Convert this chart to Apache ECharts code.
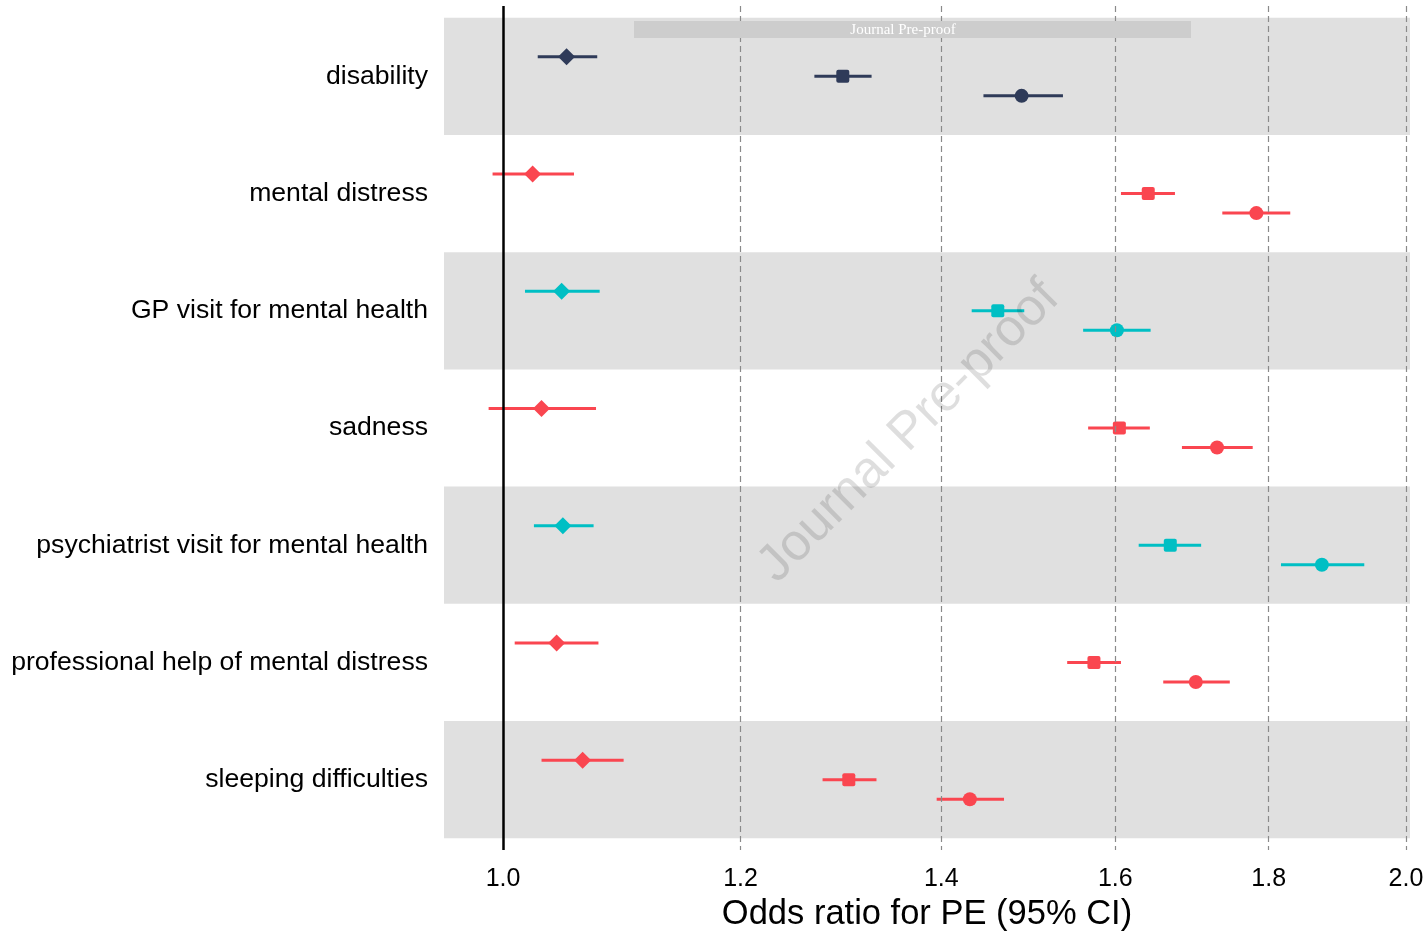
<!DOCTYPE html>
<html>
<head>
<meta charset="utf-8">
<script src="https://cdn.jsdelivr.net/npm/echarts@6/dist/echarts.min.js"></script>
<style>
html,body{margin:0;padding:0;background:#fff;}
#chart{width:1427px;height:931px;}
</style>
</head>
<body>
<div id="chart"></div>
<script>
// ---- data ----
const categories = [
  'disability',
  'mental distress',
  'GP visit for mental health',
  'sadness',
  'psychiatrist visit for mental health',
  'professional help of mental distress',
  'sleeping difficulties'
];
// model 1 (diamond)
const m1Or = [1.050, 1.023, 1.046, 1.030, 1.047, 1.042, 1.063];
const m1Lo = [1.027, 0.992, 1.017, 0.989, 1.024, 1.009, 1.030];
const m1Hi = [1.075, 1.056, 1.077, 1.074, 1.072, 1.076, 1.097];
// model 2 (square)
const m2Or = [1.298, 1.641, 1.462, 1.605, 1.669, 1.574, 1.304];
const m2Lo = [1.270, 1.607, 1.433, 1.567, 1.629, 1.542, 1.278];
const m2Hi = [1.327, 1.675, 1.492, 1.643, 1.709, 1.607, 1.332];
// model 3 (circle)
const m3Or = [1.489, 1.783, 1.602, 1.730, 1.875, 1.702, 1.431];
const m3Lo = [1.446, 1.737, 1.561, 1.684, 1.817, 1.660, 1.395];
const m3Hi = [1.537, 1.830, 1.644, 1.778, 1.937, 1.747, 1.469];
const xTicks = [1.0, 1.2, 1.4, 1.6, 1.8, 2.0];

// ---- styles ----
const NAVY = '#2f3b59', RED = '#fa4650', CYAN = '#00bfc4';
const rowColors = [NAVY, RED, CYAN, RED, CYAN, RED, RED];
const FONT = '"Liberation Sans", Arial, sans-serif';

const rowPos = categories.map((c, i) => i + 1);

function buildData(or, lo, hi) {
  return categories.map((c, i) => [rowPos[i], or[i], lo[i], hi[i]]);
}

function makeRender(shape, offset) {
  return function (params, api) {
    const y = api.value(0) + offset;
    const pE = api.coord([api.value(1), y]);
    const pL = api.coord([api.value(2), y]);
    const pH = api.coord([api.value(3), y]);
    const color = rowColors[params.dataIndex];
    let marker;
    if (shape === 'diamond') {
      const s = 8.5;
      marker = {type: 'polygon', shape: {points: [[pE[0], pE[1]-s],[pE[0]+s, pE[1]],[pE[0], pE[1]+s],[pE[0]-s, pE[1]]]}, style: {fill: color}};
    } else if (shape === 'square') {
      const s = 6.5;
      marker = {type: 'rect', shape: {x: pE[0]-s, y: pE[1]-s, width: 2*s, height: 2*s, r: 2}, style: {fill: color}};
    } else {
      marker = {type: 'circle', shape: {cx: pE[0], cy: pE[1], r: 7}, style: {fill: color}};
    }
    return {
      type: 'group',
      children: [
        {type: 'line', shape: {x1: pL[0], y1: pL[1], x2: pH[0], y2: pH[1]}, style: {stroke: color, lineWidth: 3}},
        marker
      ]
    };
  };
}

const chart = echarts.init(document.getElementById('chart'), null, {renderer: 'canvas'});

const option = {
  backgroundColor: '#ffffff',
  animation: false,
  grid: {left: 444, right: 17, top: 6, bottom: 81, containLabel: false, outerBoundsMode: 'none'},
  xAxis: {
    type: 'log',
    logBase: 10,
    min: 0.9557,
    max: 2.0062,
    axisLine: {show: false},
    axisTick: {show: false, customValues: xTicks},
    splitLine: {show: false},
    axisLabel: {
      customValues: xTicks,
      formatter: v => Number(v).toFixed(1),
      fontSize: 25, color: '#000', fontFamily: FONT, margin: 17
    },
    name: 'Odds ratio for PE (95% CI)',
    nameLocation: 'middle',
    nameGap: 47,
    nameTextStyle: {fontSize: 34.5, color: '#000', fontFamily: FONT}
  },
  yAxis: {
    type: 'value',
    inverse: true,
    min: 0.4,
    max: 7.6,
    axisLine: {show: false},
    axisTick: {show: false},
    splitLine: {show: false},
    axisLabel: {
      customValues: rowPos,
      formatter: v => categories[Math.round(v) - 1] || '',
      fontSize: 26.6, color: '#000', fontFamily: FONT, margin: 16,
      padding: [4, 0, 0, 0]
    }
  },
  series: [
    {
      type: 'custom',
      name: 'bands',
      z: 1,
      silent: true,
      data: rowPos.filter((r, i) => i % 2 === 0).map(r => [r]),
      encode: {y: 0},
      renderItem: function (params, api) {
        const r = api.value(0);
        const cs = params.coordSys;
        const top = api.coord([1, r - 0.5])[1];
        const bot = api.coord([1, r + 0.5])[1];
        return {type: 'rect', shape: {x: cs.x, y: top, width: cs.width, height: bot - top}, style: {fill: '#e0e0e0'}};
      },
      markLine: {
        silent: true,
        symbol: 'none',
        label: {show: false},
        animation: false,
        data: xTicks.map(v => ({
          xAxis: v,
          lineStyle: v === 1.0 ? {color: '#000', width: 2.5, type: 'solid'} : {color: '#8a8a8a', width: 1.2, type: [6, 4]}
        }))
      }
    },
    {type: 'custom', name: 'model 1', z: 3, data: buildData(m1Or, m1Lo, m1Hi), encode: {y: 0, x: [1, 2, 3]}, renderItem: makeRender('diamond', -1/6)},
    {type: 'custom', name: 'model 2', z: 3, data: buildData(m2Or, m2Lo, m2Hi), encode: {y: 0, x: [1, 2, 3]}, renderItem: makeRender('square', 0)},
    {type: 'custom', name: 'model 3', z: 3, data: buildData(m3Or, m3Lo, m3Hi), encode: {y: 0, x: [1, 2, 3]}, renderItem: makeRender('circle', 1/6)}
  ],
  graphic: [
    {type: 'rect', z: 50, shape: {x: 634, y: 21, width: 557, height: 17}, style: {fill: '#cdcdcd'}},
    {type: 'text', z: 51, x: 903, y: 30, style: {text: 'Journal Pre-proof', fill: '#ffffff', font: '15px "Liberation Serif", "DejaVu Serif", serif', textAlign: 'center', textVerticalAlign: 'middle'}},
    {type: 'text', z: 40, x: 909, y: 432, rotation: Math.PI / 4, style: {text: 'Journal Pre-proof', fill: 'rgba(0,0,0,0.13)', font: '52px "Liberation Sans", Arial, sans-serif', textAlign: 'center', textVerticalAlign: 'middle'}}
  ]
};
chart.setOption(option);
</script>
</body>
</html>
